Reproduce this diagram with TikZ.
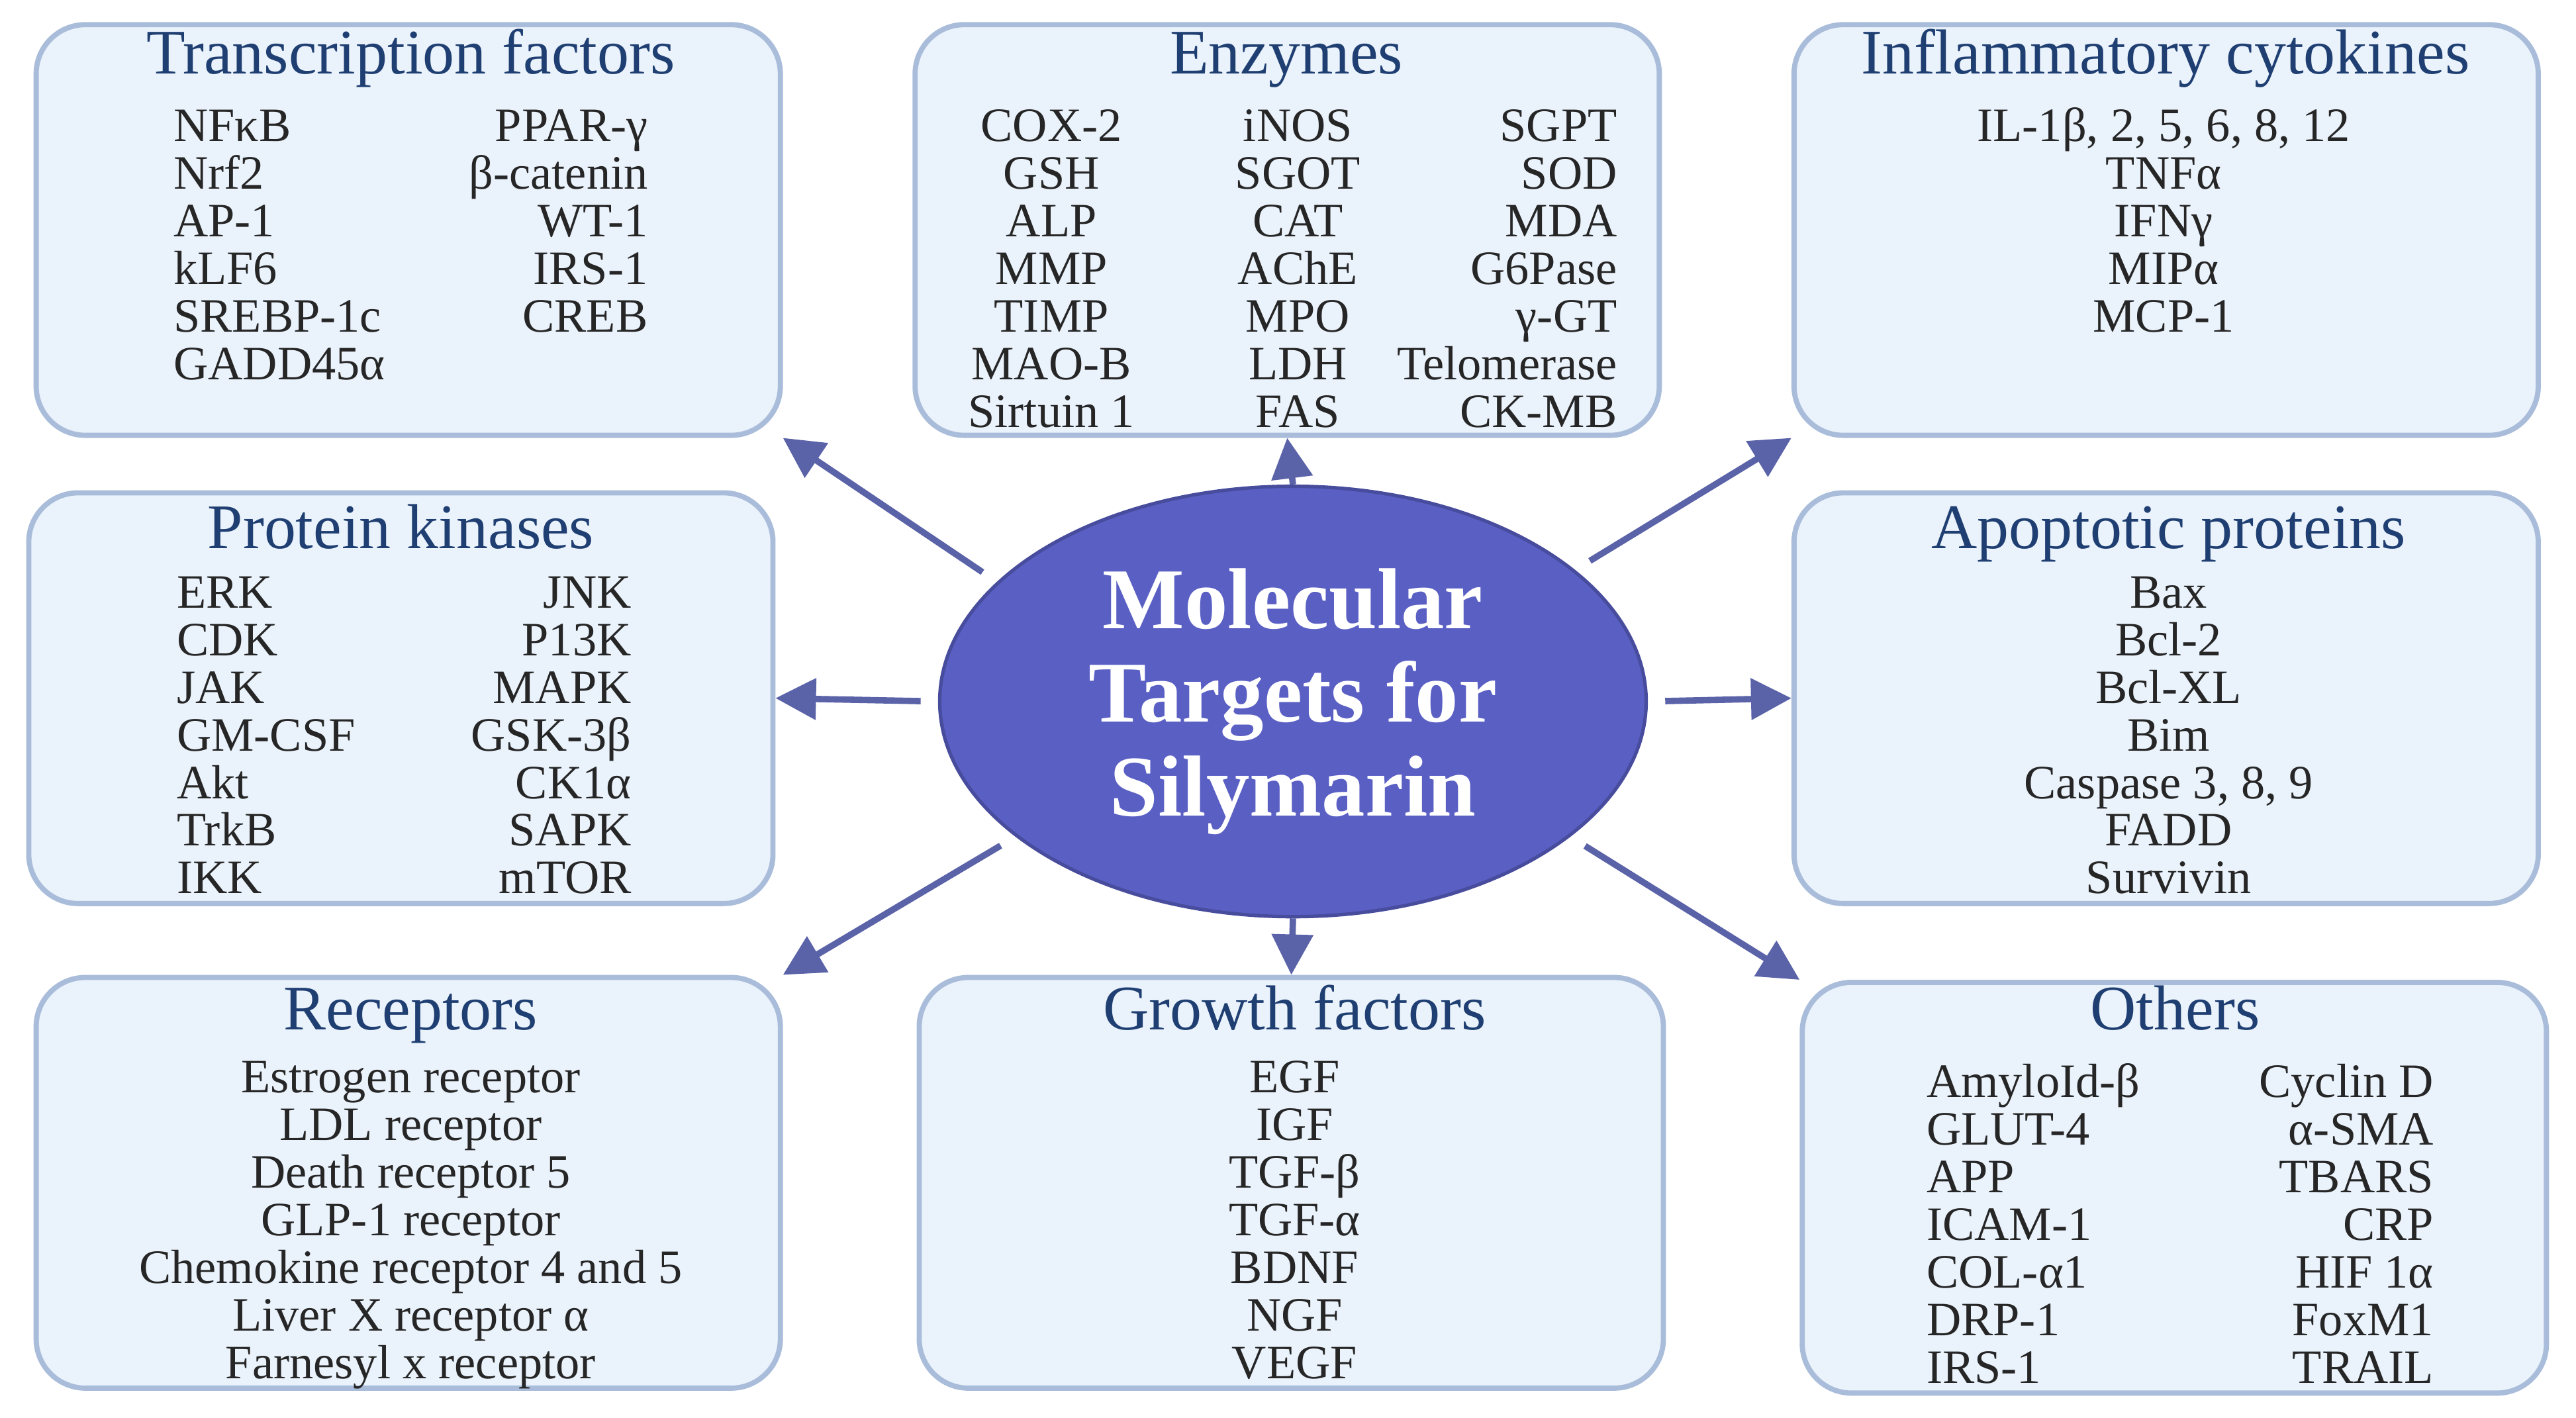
\documentclass[tikz,border=0pt]{standalone}
\usepackage{fontspec}
\setmainfont{Liberation Serif}
\usetikzlibrary{shapes.geometric,arrows.meta}
\definecolor{boxfill}{HTML}{EAF2FB}
\definecolor{boxline}{HTML}{A9BDDB}
\definecolor{titleblue}{HTML}{1F3F72}
\definecolor{ellfill}{HTML}{5A5FC4}
\definecolor{arrowcol}{HTML}{5A62A8}
\begin{document}
\begin{tikzpicture}[x=1cm,y=1cm,
    box/.style={draw=boxline,line width=0.9pt,fill=boxfill,rounded corners=0.3cm,
                minimum width=4.53cm,minimum height=2.5cm,inner sep=0pt},
    title/.style={font=\fontsize{11}{12}\selectfont,text=titleblue,anchor=base,inner sep=0pt},
    item/.style={font=\fontsize{8.3}{9}\selectfont,text=black!85,inner sep=0pt},
    target/.style={-{Triangle[length=7pt,width=7pt]},draw=arrowcol,line width=1.1pt,shorten <=3pt}]
  \useasboundingbox (0,0) rectangle (15.68,-8.63);
  % Boxes
  \node (tf)  at (2.485,-1.40) [box] {};
  \node (enz) at (7.835,-1.40) [box] {};
  \node (inf) at (13.185,-1.40) [box] {};
  \node (pk)  at (2.44,-4.25) [box] {};
  \node (apo) at (13.185,-4.25) [box] {};
  \node (rec) at (2.485,-7.20) [box] {};
  \node (gro) at (7.86,-7.20) [box] {};
  \node (oth) at (13.235,-7.23) [box] {};
  % Centre
  \node (mol) at (7.87,-4.27) [ellipse,draw=ellfill!80!black,line width=0.6pt,fill=ellfill,
      minimum width=4.3cm,minimum height=2.26cm,text=white,align=center,
      font=\fontsize{15}{16.2}\selectfont\bfseries] {Molecular\\Targets for\\Silymarin};
  % Titles
  \node (tf-t)  at (2.50,-0.45) [title] {Transcription factors};
  \node (enz-t) at (7.83,-0.45) [title] {Enzymes};
  \node (inf-t) at (13.18,-0.45) [title] {Inflammatory cytokines};
  \node (pk-t)  at (2.44,-3.34) [title] {Protein kinases};
  \node (apo-t) at (13.20,-3.34) [title] {Apoptotic proteins};
  \node (rec-t) at (2.50,-6.27) [title] {Receptors};
  \node (gro-t) at (7.88,-6.27) [title] {Growth factors};
  \node (oth-t) at (13.24,-6.27) [title] {Others};
  % Items
  \foreach \t [count=\i] in {NFκB,Nrf2,AP-1,kLF6,SREBP-1c,GADD45α}
    \node (tf-l\i) at (1.05,-0.86-0.29*\i+0.29) [item,anchor=base west] {\t};
  \foreach \t [count=\i] in {PPAR-γ,β-catenin,WT-1,IRS-1,CREB}
    \node (tf-r\i) at (3.95,-0.86-0.29*\i+0.29) [item,anchor=base east] {\t};
  \foreach \t [count=\i] in {COX-2,GSH,ALP,MMP,TIMP,MAO-B,Sirtuin 1}
    \node (enz-l\i) at (6.40,-0.86-0.29*\i+0.29) [item,anchor=base] {\t};
  \foreach \t [count=\i] in {iNOS,SGOT,CAT,AChE,MPO,LDH,FAS}
    \node (enz-m\i) at (7.90,-0.86-0.29*\i+0.29) [item,anchor=base] {\t};
  \foreach \t [count=\i] in {SGPT,SOD,MDA,G6Pase,γ-GT,Telomerase,CK-MB}
    \node (enz-r\i) at (9.85,-0.86-0.29*\i+0.29) [item,anchor=base east] {\t};
  \foreach \t [count=\i] in {{IL-1β, 2, 5, 6, 8, 12},TNFα,IFNγ,MIPα,MCP-1}
    \node (inf-c\i) at (13.17,-0.86-0.29*\i+0.29) [item,anchor=base] {\t};
  \foreach \t [count=\i] in {ERK,CDK,JAK,GM-CSF,Akt,TrkB,IKK}
    \node (pk-l\i) at (1.07,-3.70-0.29*\i+0.29) [item,anchor=base west] {\t};
  \foreach \t [count=\i] in {JNK,P13K,MAPK,GSK-3β,CK1α,SAPK,mTOR}
    \node (pk-r\i) at (3.85,-3.70-0.29*\i+0.29) [item,anchor=base east] {\t};
  \foreach \t [count=\i] in {Bax,Bcl-2,Bcl-XL,Bim,{Caspase 3, 8, 9},FADD,Survivin}
    \node (apo-c\i) at (13.20,-3.70-0.29*\i+0.29) [item,anchor=base] {\t};
  \foreach \t [count=\i] in {Estrogen receptor,LDL receptor,Death receptor 5,GLP-1 receptor,
      Chemokine receptor 4 and 5,Liver X receptor α,Farnesyl x receptor}
    \node (rec-c\i) at (2.50,-6.65-0.29*\i+0.29) [item,anchor=base] {\t};
  \foreach \t [count=\i] in {EGF,IGF,TGF-β,TGF-α,BDNF,NGF,VEGF}
    \node (gro-c\i) at (7.88,-6.65-0.29*\i+0.29) [item,anchor=base] {\t};
  \foreach \t [count=\i] in {AmyloId-β,GLUT-4,APP,ICAM-1,COL-α1,DRP-1,IRS-1}
    \node (oth-l\i) at (11.72,-6.68-0.29*\i+0.29) [item,anchor=base west] {\t};
  \foreach \t [count=\i] in {Cyclin D,α-SMA,TBARS,CRP,HIF 1α,FoxM1,TRAIL}
    \node (oth-r\i) at (14.82,-6.68-0.29*\i+0.29) [item,anchor=base east] {\t};
  % Arrows
  \draw[target] (mol.158) -- (tf.south east);
  \draw[target,shorten <=0pt] (mol.north) -- (enz.south);
  \draw[target] (mol.25) -- (inf.south west);
  \draw[target] (mol.west) -- (pk.east);
  \draw[target] (mol.east) -- (apo.west);
  \draw[target] (mol.206) -- (rec.north east);
  \draw[target,shorten <=0pt] (mol.south) -- (gro.north);
  \draw[target] (mol.-26) -- (oth.north west);
\end{tikzpicture}
\end{document}
